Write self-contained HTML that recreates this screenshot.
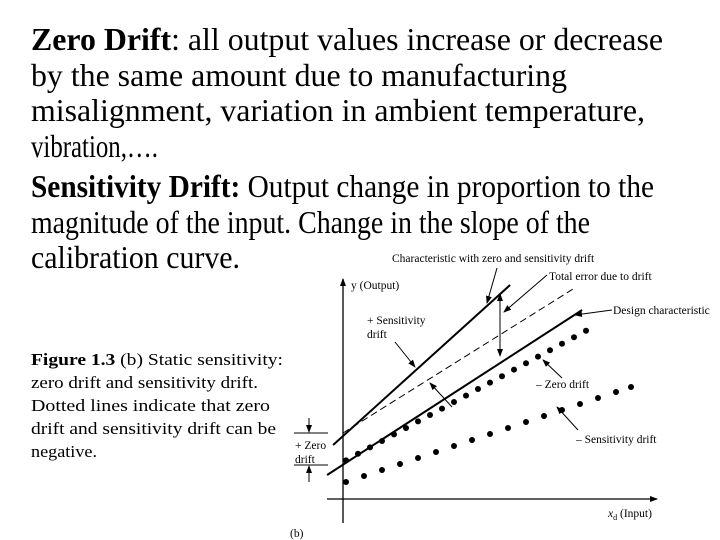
<!DOCTYPE html>
<html><head><meta charset="utf-8"><style>
html,body{margin:0;padding:0;background:#fff;}
svg{display:block;}
.t{font-family:"Liberation Serif",serif;fill:#000;}
.s{font-family:"Liberation Serif",serif;font-size:11.5px;fill:#000;}
</style></head><body>
<svg width="720" height="540" viewBox="0 0 720 540">
<defs><marker id="ah" markerWidth="8" markerHeight="8" refX="7" refY="4" orient="auto" markerUnits="userSpaceOnUse"><path d="M0,1 L8,4 L0,7 Z" fill="#000"/></marker></defs>
<g class="t" font-size="32">
<text x="31" y="50" textLength="632" lengthAdjust="spacingAndGlyphs"><tspan font-weight="bold">Zero Drift</tspan>: all output values increase or decrease</text>
<text x="31" y="86" textLength="536" lengthAdjust="spacingAndGlyphs">by the same amount due to manufacturing</text>
<text x="31" y="121" textLength="614" lengthAdjust="spacingAndGlyphs">misalignment, variation in ambient temperature,</text>
<text x="31" y="157" textLength="127" lengthAdjust="spacingAndGlyphs">vibration,….</text>
<text x="31" y="197" textLength="623" lengthAdjust="spacingAndGlyphs"><tspan font-weight="bold">Sensitivity Drift:</tspan> Output change in proportion to the</text>
<text x="31" y="233" textLength="559" lengthAdjust="spacingAndGlyphs">magnitude of the input. Change in the slope of the</text>
<text x="31" y="268" textLength="209" lengthAdjust="spacingAndGlyphs">calibration curve.</text>
</g>
<g class="t" font-size="17">
<text x="31" y="365" textLength="252" lengthAdjust="spacingAndGlyphs"><tspan font-weight="bold">Figure 1.3</tspan> (b) Static sensitivity:</text>
<text x="31" y="388" textLength="227" lengthAdjust="spacingAndGlyphs">zero drift and sensitivity drift.</text>
<text x="31" y="411" textLength="239" lengthAdjust="spacingAndGlyphs">Dotted lines indicate that zero</text>
<text x="31" y="434" textLength="245" lengthAdjust="spacingAndGlyphs">drift and sensitivity drift can be</text>
<text x="31" y="457" textLength="66" lengthAdjust="spacingAndGlyphs">negative.</text>
</g>
<g id="chart"></g>
</svg>
<script>
const designLine = [[-0.53, 1.2], [7.97, 9.45]];
const driftLine = [[-0.33, 2.7], [5.57, 10.7]];
const dashedLine = [[0, 3.3], [7.67, 10.5]];
const zeroDriftX = [0.1,0.5,0.9,1.3,1.7,2.1,2.5,2.9,3.3,3.7,4.1,4.5,4.9,5.3,5.7,6.1,6.5,6.9,7.3,7.7,8.1];
const zeroDriftY = [1.93,2.26,2.58,2.9,3.23,3.55,3.88,4.2,4.52,4.85,5.17,5.5,5.82,6.14,6.47,6.79,7.12,7.44,7.76,8.09,8.41];
const sensDriftX = [0.1,0.7,1.3,1.9,2.5,3.1,3.7,4.3,4.9,5.5,6.1,6.7,7.3,7.9,8.5,9.1,9.6];
const sensDriftY = [0.85,1.15,1.45,1.75,2.05,2.35,2.65,2.95,3.25,3.55,3.85,4.15,4.45,4.75,5.05,5.35,5.6];

const NS = "http://www.w3.org/2000/svg";
const g = document.getElementById('chart');
const xs = v => 343 + v * 30;
const ys = v => 499 - v * 20;
function el(tag, attrs, parent){const e=document.createElementNS(NS,tag);for(const k in attrs)e.setAttribute(k,attrs[k]);(parent||g).appendChild(e);return e;}

let e;
e = el('line',{x1:327,y1:499,x2:657,y2:499,stroke:'#000','stroke-width':1.3,'marker-end':'url(#ah)'});


e = el('line',{x1:343,y1:523,x2:343,y2:279,stroke:'#000','stroke-width':1.3,'marker-end':'url(#ah)'});



e = el('line',{x1:xs(designLine[0][0]),y1:ys(designLine[0][1]),x2:xs(designLine[1][0]),y2:ys(designLine[1][1]),stroke:'#000','stroke-width':2});


e = el('line',{x1:xs(driftLine[0][0]),y1:ys(driftLine[0][1]),x2:xs(driftLine[1][0]),y2:ys(driftLine[1][1]),stroke:'#000','stroke-width':2});


e = el('line',{x1:xs(dashedLine[0][0]),y1:ys(dashedLine[0][1]),x2:xs(dashedLine[1][0]),y2:ys(dashedLine[1][1]),stroke:'#000','stroke-width':1,'stroke-dasharray':'7,4'});



zeroDriftX.forEach((x,i)=>{
  const c = el('circle',{cx:xs(x),cy:ys(zeroDriftY[i]),r:3,fill:'#000'});
  
  
});
sensDriftX.forEach((x,i)=>{
  const c = el('circle',{cx:xs(x),cy:ys(sensDriftY[i]),r:3,fill:'#000'});
  
  
});

const arrows = [[497,268,487,303],[547,275,504,312],[612,310,575,315],[395,342,415,367],[452,407,430,383],[562,378,543,360],[578,430,557,407],[309,418,309,432],[309,482,309,466]];
arrows.forEach(a=>{
  const l = el('line',{x1:a[0],y1:a[1],x2:a[2],y2:a[3],stroke:'#000','stroke-width':1,'marker-end':'url(#ah)'});
  
  
});
e = el('line',{x1:500,y1:300,x2:500,y2:356,stroke:'#000','stroke-width':1,'marker-end':'url(#ah)'});


e = el('path',{d:'M500,293 L497,301 L503,301 Z',fill:'#000'});


[433,465].forEach(y=>{
  const l = el('line',{x1:294,y1:y,x2:328,y2:y,stroke:'#000','stroke-width':1});
  
  
});

const labels = [
 ['Characteristic with zero and sensitivity drift',392,262,'characteristic-label'],
 ['Total error due to drift',549,280,'total-error-label'],
 ['Design characteristic',613,314,'design-label'],
 ['+ Sensitivity',367,324,'plus-sensitivity-label'],
 ['drift',367,338,'plus-sensitivity-label-2'],
 ['– Zero drift',536,388,'minus-zero-label'],
 ['– Sensitivity drift',576,443,'minus-sensitivity-label'],
 ['+ Zero',295,449,'plus-zero-label'],
 ['drift',295,463,'plus-zero-label-2'],
 ['y (Output)',351,289,'y-axis-title'],
 ['(b)',290,537,'panel-label']
];
labels.forEach(l=>{
  const t = el('text',{x:l[1],y:l[2],class:'s'});
  t.textContent = l[0];
  
  
});
const xt = el('text',{x:608,y:517,class:'s'});
xt.innerHTML = '<tspan font-style="italic">x</tspan><tspan font-size="8" dy="3">d</tspan><tspan dy="-3"> (Input)</tspan>';


</script>
</body></html>
